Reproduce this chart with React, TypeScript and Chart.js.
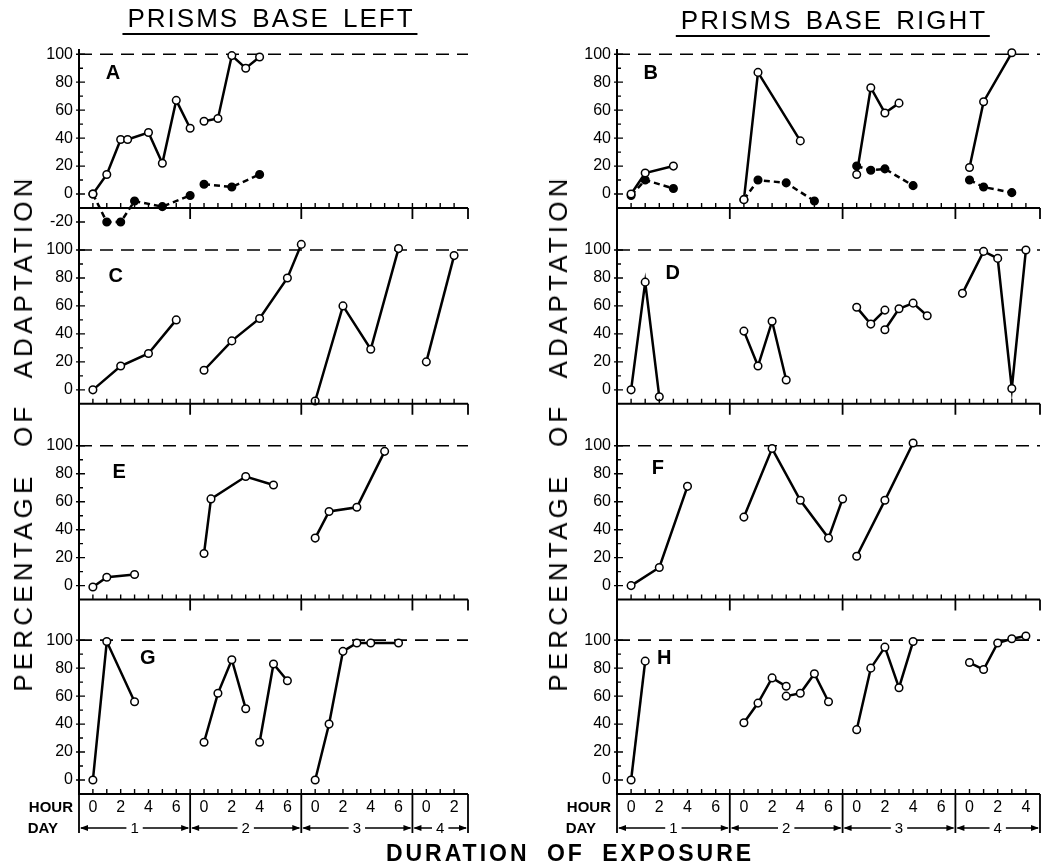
import React, { useEffect, useRef } from 'react';
import { Chart, registerables } from 'chart.js';

Chart.register(...registerables);

// Each point: [day, hour of that day, percentage of adaptation]
type Pt = [number, number, number];

// ---------- PRISMS BASE LEFT ----------
const A_OPEN: Pt[][] = [
  [[1, 0, 0], [1, 1, 14], [1, 2, 39], [1, 2.5, 39], [1, 4, 44], [1, 5, 22], [1, 6, 67], [1, 7, 47]],
  [[2, 0, 52], [2, 1, 54], [2, 2, 99], [2, 3, 90], [2, 4, 98]],
];
const A_FILLED: Pt[][] = [
  [[1, 0, 0], [1, 1, -20], [1, 2, -20], [1, 3, -5], [1, 5, -9], [1, 7, -1]],
  [[2, 0, 7], [2, 2, 5], [2, 4, 14]],
];
const C_OPEN: Pt[][] = [
  [[1, 0, 0], [1, 2, 17], [1, 4, 26], [1, 6, 50]],
  [[2, 0, 14], [2, 2, 35], [2, 4, 51], [2, 6, 80], [2, 7, 104]],
  [[3, 0, -8], [3, 2, 60], [3, 4, 29], [3, 6, 101]],
  [[4, 0, 20], [4, 2, 96]],
];
const E_OPEN: Pt[][] = [
  [[1, 0, -1], [1, 1, 6], [1, 3, 8]],
  [[2, 0, 23], [2, 0.5, 62], [2, 3, 78], [2, 5, 72]],
  [[3, 0, 34], [3, 1, 53], [3, 3, 56], [3, 5, 96]],
];
const G_OPEN: Pt[][] = [
  [[1, 0, 0], [1, 1, 99], [1, 3, 56]],
  [[2, 0, 27], [2, 1, 62], [2, 2, 86], [2, 3, 51]],
  [[2, 4, 27], [2, 5, 83], [2, 6, 71]],
  [[3, 0, 0], [3, 1, 40], [3, 2, 92], [3, 3, 98], [3, 4, 98], [3, 6, 98]],
];

// ---------- PRISMS BASE RIGHT ----------
const B_OPEN: Pt[][] = [
  [[1, 0, 0], [1, 1, 15], [1, 3, 20]],
  [[2, 0, -4], [2, 1, 87], [2, 4, 38]],
  [[3, 0, 14], [3, 1, 76], [3, 2, 58], [3, 3, 65]],
  [[4, 0, 19], [4, 1, 66], [4, 3, 101]],
];
const B_FILLED: Pt[][] = [
  [[1, 0, -1], [1, 1, 10], [1, 3, 4]],
  [[2, 0, -4], [2, 1, 10], [2, 3, 8], [2, 5, -5]],
  [[3, 0, 20], [3, 1, 17], [3, 2, 18], [3, 4, 6]],
  [[4, 0, 10], [4, 1, 5], [4, 3, 1]],
];
const D_OPEN: Pt[][] = [
  [[1, 0, 0], [1, 1, 77], [1, 2, -5]],
  [[2, 0, 42], [2, 1, 17], [2, 2, 49], [2, 3, 7]],
  [[3, 0, 59], [3, 1, 47], [3, 2, 57]],
  [[3, 2, 43], [3, 3, 58], [3, 4, 62], [3, 5, 53]],
  [[4, -0.5, 69], [4, 1, 99], [4, 2, 94], [4, 3, 1], [4, 4, 100]],
];
const F_OPEN: Pt[][] = [
  [[1, 0, 0], [1, 2, 13], [1, 4, 71]],
  [[2, 0, 49], [2, 2, 98], [2, 4, 61], [2, 6, 34], [2, 7, 62]],
  [[3, 0, 21], [3, 2, 61], [3, 4, 102]],
];
const H_OPEN: Pt[][] = [
  [[1, 0, 0], [1, 1, 85]],
  [[2, 0, 41], [2, 1, 55], [2, 2, 73], [2, 3, 67]],
  [[2, 3, 60], [2, 4, 62], [2, 5, 76], [2, 6, 56]],
  [[3, 0, 36], [3, 1, 80], [3, 2, 95], [3, 3, 66], [3, 4, 99]],
  [[4, 0, 84], [4, 1, 79], [4, 2, 98], [4, 3, 101], [4, 4, 103]],
];

// ---------- ticks / labels ----------
const Y_TICKS = [0, 20, 40, 60, 80, 100];
const Y_TICKS_A = [-20, 0, 20, 40, 60, 80, 100];
const HOUR_LABELS = [0, 2, 4, 6];
const HOUR_LABELS_DAY4_LEFT = [0, 2];
const HOUR_LABELS_DAY4_RIGHT = [0, 2, 4];
const DAY_LABELS = ['1', '2', '3', '4'];
const FULL_ADAPTATION = 100;

// letter placement in [x-hours, %] of each panel
const LETTER_POS: Record<string, [number, number]> = {
  A: [1.45, 86], C: [1.65, 81], E: [1.9, 81], G: [3.95, 87],
  B: [1.4, 86], D: [2.95, 83], F: [1.9, 84], H: [2.35, 87],
};

// vertical extent (in % units) of each stacked panel, top to bottom
const RANGES: [number, number][] = [[-28, 103], [-10, 112], [-10, 130], [-10, 129]];

const SLOT = 8; // hours allotted per day on the axis
const toX = (day: number, hour: number) => (day - 1) * SLOT + hour;

const FONT = '"Liberation Sans", Arial, sans-serif';

const paperAxes = {
  id: 'paperAxes',
  afterDraw(chart: any, _args: any, opts: any) {
    const ctx = chart.ctx;
    const xs = chart.scales.x;
    const panels = opts.panels;
    const seps = [toX(2, -1), toX(3, -1), toX(4, -1)];
    ctx.save();
    ctx.strokeStyle = '#000';
    ctx.fillStyle = '#000';
    ctx.lineCap = 'butt';
    panels.forEach((p: any, idx: number) => {
      const ys = chart.scales[p.id];
      const isBottom = idx === panels.length - 1;
      const y0 = ys.getPixelForValue(-10);
      // x axis line
      ctx.lineWidth = 2;
      ctx.beginPath();
      ctx.moveTo(xs.left, y0);
      ctx.lineTo(xs.right, y0);
      ctx.stroke();
      // hour ticks
      ctx.lineWidth = 1.4;
      ctx.beginPath();
      for (let h = 0; h < xs.max; h++) {
        const x = xs.getPixelForValue(h);
        ctx.moveTo(x, y0);
        ctx.lineTo(x, y0 - 5);
      }
      ctx.stroke();
      // day separators
      const down = isBottom ? 39 : 11;
      ctx.lineWidth = 1.8;
      ctx.beginPath();
      [...seps, xs.max].forEach((s) => {
        const x = xs.getPixelForValue(s);
        ctx.moveTo(x, y0);
        ctx.lineTo(x, y0 + down);
      });
      if (isBottom) {
        ctx.moveTo(xs.left, y0);
        ctx.lineTo(xs.left, y0 + down);
      }
      ctx.stroke();
      // y minor/major ticks
      ctx.lineWidth = 1.4;
      ctx.beginPath();
      for (let v = p.ticks[0]; v <= 100; v += 10) {
        const y = ys.getPixelForValue(v);
        const major = v % 20 === 0;
        ctx.moveTo(xs.left - (major ? 3 : 0), y);
        ctx.lineTo(xs.left + (major ? 6 : 4), y);
      }
      ctx.stroke();
      // panel letter
      ctx.font = 'bold 20px ' + FONT;
      ctx.textAlign = 'center';
      ctx.textBaseline = 'middle';
      const [lx, ly] = LETTER_POS[p.letter];
      ctx.fillText(p.letter, xs.getPixelForValue(lx), ys.getPixelForValue(ly));

      if (isBottom) {
        // HOUR / DAY captions
        ctx.font = 'bold 15px ' + FONT;
        ctx.textAlign = 'right';
        ctx.fillText('HOUR', xs.left - 6, y0 + 14);
        ctx.fillText('DAY', xs.left - 21, y0 + 35);
        // day arrows
        const yd = y0 + 34;
        const bounds = [xs.min, ...seps, xs.max];
        ctx.font = '15px ' + FONT;
        ctx.textAlign = 'center';
        DAY_LABELS.forEach((lab, i) => {
          const xa = xs.getPixelForValue(bounds[i]);
          const xb = xs.getPixelForValue(bounds[i + 1]);
          const mid = (xa + xb) / 2;
          const w = ctx.measureText(lab).width;
          ctx.lineWidth = 1.5;
          ctx.beginPath();
          ctx.moveTo(xa + 2, yd);
          ctx.lineTo(mid - w / 2 - 4, yd);
          ctx.moveTo(mid + w / 2 + 4, yd);
          ctx.lineTo(xb - 2, yd);
          ctx.stroke();
          ctx.beginPath();
          ctx.moveTo(xa + 1, yd);
          ctx.lineTo(xa + 9, yd - 3);
          ctx.lineTo(xa + 9, yd + 3);
          ctx.closePath();
          ctx.moveTo(xb - 1, yd);
          ctx.lineTo(xb - 9, yd - 3);
          ctx.lineTo(xb - 9, yd + 3);
          ctx.closePath();
          ctx.fill();
          ctx.fillText(lab, mid, yd + 1);
        });
      }
    });
    ctx.restore();
  },
};

function segDatasets(segs: Pt[][], yAxisID: string, filled: boolean) {
  return segs.map((seg) => ({
    type: 'line',
    data: seg.map(([d, h, v]) => ({ x: toX(d, h), y: v })),
    xAxisID: 'x',
    yAxisID,
    borderColor: '#000',
    borderWidth: 2.5,
    borderDash: filled ? [6, 4] : [],
    pointRadius: 3.8,
    pointBorderWidth: 1.5,
    pointBackgroundColor: filled ? '#000' : '#fff',
    pointBorderColor: '#000',
    tension: 0,
    fill: false,
    clip: false,
  }));
}

function buildConfig(panels: any[], xMax: number, day4Labels: number[], axisWidth: number, padRight: number) {
  const hourTicks: number[] = [];
  [1, 2, 3].forEach((d) => HOUR_LABELS.forEach((h) => hourTicks.push(toX(d, h))));
  day4Labels.forEach((h) => hourTicks.push(toX(4, h)));

  const scales: any = {
    x: {
      type: 'linear',
      min: -1,
      max: xMax,
      position: 'bottom',
      grid: { display: false, drawTicks: false },
      border: { display: false },
      ticks: {
        color: '#000',
        font: { family: FONT, size: 16 },
        padding: 4,
        autoSkip: false,
        maxRotation: 0,
        callback: (v: number) => String(((v % SLOT) + SLOT) % SLOT),
      },
      afterBuildTicks: (s: any) => {
        s.ticks = hourTicks.map((v) => ({ value: v }));
      },
      afterFit: (s: any) => {
        s.height = 40;
      },
    },
  };
  const datasets: any[] = [];
  panels.forEach((p, i) => {
    const [min, max] = RANGES[i];
    scales[p.id] = {
      type: 'linear',
      position: 'left',
      stack: 'col',
      stackWeight: max - min,
      weight: 10 - i,
      min,
      max,
      grid: { display: false, drawTicks: false },
      border: { display: true, color: '#000', width: 2 },
      ticks: {
        color: '#000',
        font: { family: FONT, size: 16 },
        padding: 6,
        autoSkip: false,
      },
      afterBuildTicks: (s: any) => {
        s.ticks = p.ticks.map((v: number) => ({ value: v }));
      },
      afterFit: (s: any) => {
        s.width = axisWidth;
      },
    };
    datasets.push(...segDatasets(p.open, p.id, false));
    datasets.push(...segDatasets(p.filled, p.id, true));
    datasets.push({
      type: 'line',
      data: [{ x: -1, y: FULL_ADAPTATION }, { x: xMax, y: FULL_ADAPTATION }],
      xAxisID: 'x',
      yAxisID: p.id,
      borderColor: '#000',
      borderWidth: 1.6,
      borderDash: [13, 8],
      pointRadius: 0,
      tension: 0,
      fill: false,
      clip: false,
    });
  });

  return {
    type: 'line',
    data: { datasets },
    options: {
      responsive: false,
      animation: false,
      parsing: true,
      layout: { padding: { top: 50, left: 0, right: padRight, bottom: 34 } },
      scales,
      plugins: {
        legend: { display: false },
        tooltip: { enabled: false },
        paperAxes: { panels },
      },
    },
    plugins: [paperAxes],
  };
}

const LEFT_PANELS = [
  { id: 'yA', letter: 'A', open: A_OPEN, filled: A_FILLED, ticks: Y_TICKS_A },
  { id: 'yC', letter: 'C', open: C_OPEN, filled: [], ticks: Y_TICKS },
  { id: 'yE', letter: 'E', open: E_OPEN, filled: [], ticks: Y_TICKS },
  { id: 'yG', letter: 'G', open: G_OPEN, filled: [], ticks: Y_TICKS },
];
const RIGHT_PANELS = [
  { id: 'yB', letter: 'B', open: B_OPEN, filled: B_FILLED, ticks: Y_TICKS },
  { id: 'yD', letter: 'D', open: D_OPEN, filled: [], ticks: Y_TICKS },
  { id: 'yF', letter: 'F', open: F_OPEN, filled: [], ticks: Y_TICKS },
  { id: 'yH', letter: 'H', open: H_OPEN, filled: [], ticks: Y_TICKS },
];

const abs = (s: any): any => ({ position: 'absolute', ...s });

export default function App() {
  const leftRef = useRef<HTMLCanvasElement>(null);
  const rightRef = useRef<HTMLCanvasElement>(null);

  useEffect(() => {
    const l = new Chart(leftRef.current as any, buildConfig(LEFT_PANELS, 27, HOUR_LABELS_DAY4_LEFT, 79, 42) as any);
    const r = new Chart(rightRef.current as any, buildConfig(RIGHT_PANELS, 29, HOUR_LABELS_DAY4_RIGHT, 80, 13) as any);
    return () => {
      l.destroy();
      r.destroy();
    };
  }, []);

  const title = (x: number, top: number, text: string) => (
    <div style={abs({ left: x, top, transform: 'translateX(-50%)', whiteSpace: 'nowrap' })}>
      <span
        style={{
          display: 'inline-block',
          fontFamily: FONT,
          fontSize: 26,
          lineHeight: '26px',
          letterSpacing: 2,
          wordSpacing: 4,
          padding: '0 3px 2px 5px',
          borderBottom: '2px solid #000',
          color: '#000',
        }}
      >
        {text}
      </span>
    </div>
  );

  const yLabel = (x: number) => (
    <div
      style={abs({
        left: x,
        top: 433,
        transform: 'translate(-50%, -50%) rotate(-90deg)',
        whiteSpace: 'nowrap',
        fontFamily: FONT,
        fontSize: 26,
        lineHeight: '26px',
        letterSpacing: 4.2,
        wordSpacing: 14,
        color: '#000',
      })}
    >
      PERCENTAGE OF ADAPTATION
    </div>
  );

  return (
    <div style={abs({ left: 0, top: 0, width: 1053, height: 868, background: '#fff', overflow: 'hidden' })}>
      <canvas ref={leftRef} width={510} height={868} style={abs({ left: 0, top: 0 })} />
      <canvas ref={rightRef} width={516} height={868} style={abs({ left: 537, top: 0 })} />
      {title(270, 5, 'PRISMS BASE LEFT')}
      {title(833, 7, 'PRISMS BASE RIGHT')}
      {yLabel(23)}
      {yLabel(558)}
      <div
        style={abs({
          left: 570,
          top: 842,
          transform: 'translateX(-50%)',
          whiteSpace: 'nowrap',
          fontFamily: FONT,
          fontWeight: 'bold',
          fontSize: 23,
          lineHeight: '23px',
          letterSpacing: 3,
          wordSpacing: 8,
          color: '#000',
        })}
      >
        DURATION OF EXPOSURE
      </div>
    </div>
  );
}
